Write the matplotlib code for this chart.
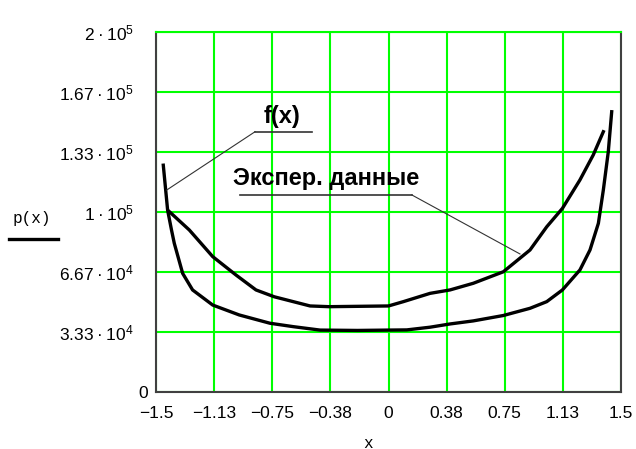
import matplotlib
matplotlib.use("Agg")
import matplotlib.pyplot as plt
from matplotlib.lines import Line2D

plt.rcParams['font.family'] = ['Liberation Sans', 'DejaVu Sans']

# theoretical density f(x) (lower curve)
f_x = [-1.453, -1.425, -1.400, -1.382, -1.328, -1.264, -1.134, -0.963, -0.765,
       -0.614, -0.442, -0.200, 0.000, 0.118, 0.268, 0.397, 0.547, 0.741, 0.913,
       1.021, 1.122, 1.235, 1.300, 1.354, 1.386, 1.418, 1.440]
f_y = [126000, 101000, 90000, 82600, 65900, 56700, 48300, 42800, 38200,
       36300, 34400, 34200, 34400, 34500, 36000, 37800, 39500, 42500, 46500,
       50200, 56700, 67800, 78900, 93700, 112200, 133500, 155700]

# experimental data (upper curve)
exp_x = [-1.414, -1.285, -1.134, -0.984, -0.855, -0.737, -0.506, -0.384, 0.000,
         0.096, 0.268, 0.397, 0.547, 0.741, 0.913, 1.021, 1.122, 1.235, 1.321, 1.386]
exp_y = [100200, 90000, 75200, 65000, 56700, 52900, 47800, 47400, 47800,
         50200, 54800, 56700, 60400, 66800, 78900, 91800, 102000, 117800, 131700, 144600]

x_ticks = [-1.5, -1.125, -0.75, -0.375, 0, 0.375, 0.75, 1.125, 1.5]
x_labels = ['\u22121.5', '\u22121.13', '\u22120.75', '\u22120.38', '0', '0.38', '0.75', '1.13', '1.5']
y_ticks = [0, 33333, 66667, 100000, 133333, 166667, 200000]
dot = '\u2009·\u2009'
y_labels = ['0',
            '3.33' + dot + r'10$\mathregular{^{4}}$',
            '6.67' + dot + r'10$\mathregular{^{4}}$',
            '1' + dot + r'10$\mathregular{^{5}}$',
            '1.33' + dot + r'10$\mathregular{^{5}}$',
            '1.67' + dot + r'10$\mathregular{^{5}}$',
            '2' + dot + r'10$\mathregular{^{5}}$']

fig = plt.figure(figsize=(6.36, 4.49), dpi=100)
ax = fig.add_axes([156/636, 57/449, 465/636, 360/449])

ax.plot(f_x, f_y, color='black', lw=2.4, solid_joinstyle='round')
ax.plot(exp_x, exp_y, color='black', lw=2.4, solid_joinstyle='round')

ax.set_xlim(-1.5, 1.5)
ax.set_ylim(0, 200000)
ax.set_xticks(x_ticks)
ax.set_xticklabels(x_labels, fontsize=12.5)
ax.set_yticks(y_ticks)
ax.set_yticklabels(y_labels, fontsize=12.5)
ax.tick_params(length=0)
ax.tick_params(axis='x', pad=10)
ax.tick_params(axis='y', pad=16)
ax.yaxis.get_major_ticks()[0].set_pad(6)
ax.grid(True, color='#00ff00', lw=1.5)
ax.set_axisbelow(True)
for s in ax.spines.values():
    s.set_color('#404040')
    s.set_linewidth(1.5)
ax.spines['top'].set_color('#00ff00')

# labels with leader lines
ax.text(-0.684, 152900, 'f(x)', fontsize=17, fontweight='bold', ha='center', va='center')
ax.plot([-0.861, -0.495], [144600, 144600], color='#333333', lw=1.2)
ax.plot([-0.861, -1.431], [144600, 112200], color='#333333', lw=0.8)

ax.text(-0.404, 118700, 'Экспер. данные', fontsize=17, fontweight='bold', ha='center', va='center')
ax.plot([-0.958, 0.150], [109500, 109500], color='#333333', lw=1.2)
ax.plot([0.150, 0.848], [109500, 76700], color='#333333', lw=0.8)

fig.text(31.5/636, 1 - 218/449, 'p(x)', family='Liberation Mono', fontsize=11.5, ha='center', va='center')
fig.add_artist(Line2D([9/636, 58/636], [1 - 239.5/449, 1 - 239.5/449], color='black', lw=2.4))
fig.text(368/636, 1 - 443/449, 'x', family='Liberation Mono', fontsize=11.5, ha='center', va='center')

fig.savefig('out.png', dpi=100)
